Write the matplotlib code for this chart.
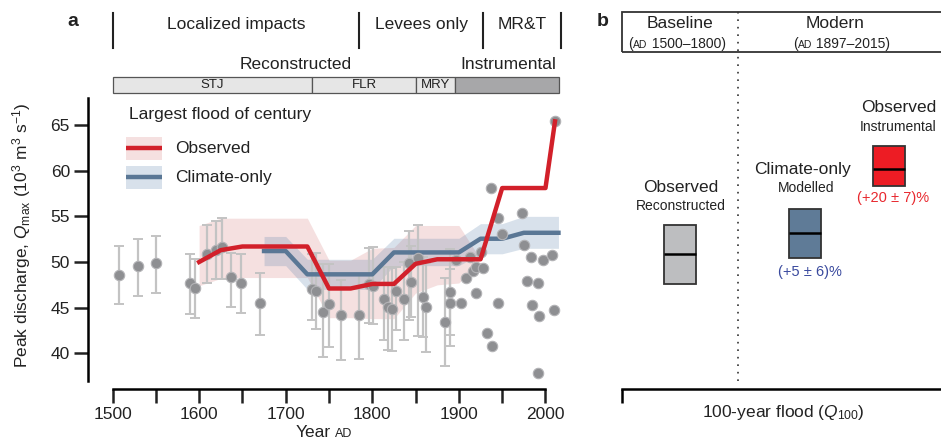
import numpy as np
import matplotlib.pyplot as plt
from matplotlib.patches import Rectangle
import matplotlib.transforms as mtransforms

plt.rcParams['font.family'] = ['Liberation Sans', 'DejaVu Sans']
plt.rcParams['mathtext.fontset'] = 'custom'
plt.rcParams['mathtext.rm'] = 'Liberation Sans'
plt.rcParams['mathtext.it'] = 'Liberation Sans:italic'
plt.rcParams['mathtext.bf'] = 'Liberation Sans:bold'
plt.rcParams['text.color'] = '#222222'

# --- panel a : reconstructed floods (with error bars)
recon_year = [1508, 1529, 1550, 1590, 1595, 1609, 1620, 1626, 1637, 1648, 1670,
              1730, 1735, 1743, 1750, 1764, 1785, 1796, 1801, 1814, 1818, 1823,
              1827, 1837, 1842, 1845, 1853, 1858, 1862, 1884, 1890, 1890]
recon_q = [48.55, 49.55, 49.9, 47.75, 47.2, 50.9, 51.3, 51.6, 48.4, 47.75, 45.5,
           47.0, 46.85, 44.5, 45.35, 44.2, 44.2, 47.6, 47.4, 46.0, 45.1, 44.9,
           46.85, 45.95, 49.85, 47.85, 50.4, 46.2, 45.1, 43.45, 46.75, 45.55]
recon_lo = [45.4, 46.3, 46.6, 44.3, 43.85, 47.7, 48.1, 48.1, 45.1, 44.4, 42.0,
            43.65, 42.7, 39.6, 40.7, 39.3, 39.4, 43.35, 43.2, 41.45, 40.4, 40.3,
            42.55, 41.5, 43.7, 44.0, 41.9, 41.8, 40.2, 38.6, 40.8, 42.0]
recon_hi = [51.75, 52.5, 52.9, 50.85, 50.35, 54.0, 54.5, 54.8, 50.95, 50.9, 48.85,
            50.9, 50.95, 49.75, 49.75, 48.0, 48.6, 51.5, 51.6, 49.5, 49.4, 49.3,
            49.5, 50.0, 53.4, 51.7, 54.05, 50.6, 49.9, 48.3, 51.4, 49.2]

# instrumental floods
inst_year = [1897, 1902, 1908, 1913, 1916, 1920, 1920, 1925, 1928, 1932, 1937,
             1938, 1945, 1945, 1950, 1973, 1975, 1979, 1983, 1985, 1991, 1991,
             1993, 1997, 2008, 2010, 2011]
inst_q = [50.2, 45.5, 48.3, 50.5, 49.0, 49.5, 46.6, 51.1, 49.3, 42.25, 58.1,
          40.8, 54.8, 45.5, 53.05, 55.4, 51.9, 47.9, 50.55, 45.3, 47.7, 37.9,
          44.1, 50.2, 50.8, 44.75, 65.45]

# largest flood of century, observed
obs_year = [1600, 1625, 1650, 1675, 1700, 1725, 1750, 1775, 1800, 1825, 1850,
            1875, 1900, 1925, 1950, 1975, 2000, 2011]
obs_q = [50.0, 51.3, 51.7, 51.7, 51.7, 51.7, 47.1, 47.1, 47.6, 47.6, 49.8,
         50.3, 50.3, 50.3, 58.1, 58.1, 58.1, 65.4]
obs_band_year = obs_year[:14]
obs_lo = [47.4, 48.2, 48.3, 48.3, 48.3, 48.3, 43.9, 43.9, 43.8, 43.8, 46.6,
          47.5, 47.7, 50.3]
obs_hi = [54.0, 54.8, 54.8, 54.8, 54.8, 54.8, 50.2, 50.2, 51.5, 51.6, 54.0,
          54.0, 54.0, 50.3]

# largest flood of century, climate-only
clim_year = [1675, 1700, 1725, 1750, 1775, 1800, 1825, 1850, 1875, 1900, 1925,
             1950, 1975, 2000, 2015]
clim_q = [51.2, 51.2, 48.65, 48.65, 48.65, 48.65, 51.05, 51.05, 51.05, 51.05,
          52.55, 52.55, 53.2, 53.2, 53.2]
clim_lo = [49.6, 49.6, 47.0, 47.0, 47.0, 47.0, 49.6, 49.6, 49.6, 49.6, 50.9,
           50.9, 51.5, 51.5, 51.5]
clim_hi = [52.8, 52.8, 50.3, 50.3, 50.3, 50.3, 52.6, 52.6, 52.6, 52.6, 54.2,
           54.2, 55.0, 55.0, 55.0]

eras = ["Localized impacts", "Levees only", "MR&T"]
era_edges = [1500, 1785, 1928, 2018]
sources = ["STJ", "FLR", "MRY", ""]
source_edges = [1500, 1730, 1851, 1896, 2016]
source_colors = ['#e6e6e6', '#e6e6e6', '#e6e6e6', '#a7a7a9']

# --- panel b : 100-year flood
box_x = [0.182, 0.573, 0.837]
box_lo = [47.6, 50.45, 58.3]
box_med = [50.9, 53.2, 60.2]
box_hi = [54.0, 55.8, 62.7]
box_colors = ['#bdbec0', '#5f7b97', '#ed1c24']
box_title = ["Observed", "Climate-only", "Observed"]
box_sub = ["Reconstructed", "Modelled", "Instrumental"]

red = '#d2202a'
blue = '#5a7795'
W, H = 941, 445


def pix(x0, y0, x1, y1):
    # pixel box -> figure fraction
    return [x0 / W, 1 - y1 / H, (x1 - x0) / W, (y1 - y0) / H]


fig = plt.figure(figsize=(W / 100, H / 100), dpi=100)
ax = fig.add_axes(pix(88, 98, 566, 381))
axb = fig.add_axes(pix(622, 98, 941, 381))
ylim = (36.97, 67.96)

# ---------------- panel a
ax.set_xlim(1471.7, 2023.7)
ax.set_ylim(*ylim)
for s in ['top', 'right']:
    ax.spines[s].set_visible(False)
ax.spines['left'].set_linewidth(1.8)
ax.spines['bottom'].set_linewidth(1.8)
ax.spines['bottom'].set_position(('outward', 6))
ax.spines['bottom'].set_bounds(1500, 2000)
xt = np.arange(1500, 2001, 50)
ax.set_xticks(xt)
ax.set_xticklabels([str(v) if v % 100 == 0 else '' for v in xt])
ax.set_yticks([40, 45, 50, 55, 60, 65])
ax.tick_params(length=10, width=1.8, labelsize=12.5, pad=3, colors='#222222')

ax.fill_between(obs_band_year, obs_lo, obs_hi, color='#c94a4a', alpha=0.17, lw=0, zorder=1)
ax.fill_between(clim_year, clim_lo, clim_hi, color='#4f7aa6', alpha=0.22, lw=0, zorder=1)
q = np.array(recon_q)
ax.errorbar(recon_year, recon_q, yerr=[q - np.array(recon_lo), np.array(recon_hi) - q],
            fmt='none', ecolor='#c3c3c3', elinewidth=1.6, capsize=3.8, capthick=1.4, zorder=2)
ax.plot(clim_year, clim_q, color=blue, lw=3.2, zorder=3)
ax.plot(recon_year + inst_year, recon_q + inst_q, 'o', ms=7.5, mfc='#8e8f92',
        mec='#b3b3b6', mew=0.8, zorder=4)
ax.plot(obs_year, obs_q, color=red, lw=3.2, zorder=5)

# era / record annotations above
tr = mtransforms.blended_transform_factory(ax.transData, ax.transAxes)
for e in era_edges:
    ax.plot([e, e], [1.177, 1.30], transform=tr, color='#222222', lw=1.5, clip_on=False)
for i, name in enumerate(eras):
    ax.text((era_edges[i] + era_edges[i + 1]) / 2, 1.261, name, transform=tr,
            ha='center', va='center', fontsize=12.5)
for i, name in enumerate(sources):
    x0, x1 = source_edges[i], source_edges[i + 1]
    ax.add_patch(Rectangle((x0, 1.018), x1 - x0, 0.056, transform=tr, facecolor=source_colors[i],
                           edgecolor='#555555', lw=0.9, clip_on=False))
    ax.text((x0 + x1) / 2, 1.046, name, transform=tr, ha='center', va='center', fontsize=9.5)
ax.text(1712, 1.117, "Reconstructed", transform=tr, ha='center', va='center', fontsize=12.5)
ax.text(1957, 1.117, "Instrumental", transform=tr, ha='center', va='center', fontsize=12.5)

# legend
ax.text(0.0858, 0.940, "Largest flood of century", transform=ax.transAxes,
        ha='left', va='center', fontsize=12.5)
for (y0, y1, yl), col, fc, al, lab in [((0.781, 0.862, 0.823), red, '#c94a4a', 0.17, "Observed"),
                                       ((0.678, 0.760, 0.7198), blue, '#4f7aa6', 0.22, "Climate-only")]:
    ax.add_patch(Rectangle((0.0795, y0), 0.0753, y1 - y0, transform=ax.transAxes,
                           facecolor=fc, alpha=al, lw=0))
    ax.plot([0.0795, 0.1548], [yl, yl], transform=ax.transAxes, color=col, lw=3.2,
            solid_capstyle='butt')
    ax.text(0.182, yl, lab, transform=ax.transAxes, ha='left', va='center', fontsize=12.5)

fig.text(22 / W, 1 - 235 / H, r'Peak discharge, $Q_{\mathrm{max}}$ ($10^3$ m$^3$ s$^{-1}$)',
         rotation=90, ha='center', va='center', fontsize=12.5)
ty = fig.text(296 / W, 0.018, "Year", ha='left', va='baseline', fontsize=12.5)
ax.annotate("AD", xy=(1, 0.018), xycoords=(ty, 'figure fraction'), xytext=(3, 0),
            textcoords='offset points', ha='left', va='baseline', fontsize=9)
fig.text(73 / W, 1 - 22 / H, "a", fontsize=14, fontweight='bold', ha='center', va='center')
fig.text(603 / W, 1 - 22 / H, "b", fontsize=14, fontweight='bold', ha='center', va='center')

# ---------------- panel b
axb.set_xlim(0, 1)
axb.set_ylim(*ylim)
for s in ['top', 'right', 'left']:
    axb.spines[s].set_visible(False)
axb.spines['bottom'].set_linewidth(1.8)
axb.spines['bottom'].set_position(('outward', 6))
axb.set_xticks([0])
axb.set_xticklabels([''])
axb.set_yticks([])
axb.tick_params(length=10, width=1.8)

axb.bar(box_x, np.array(box_hi) - np.array(box_lo), bottom=box_lo, width=0.1,
        color=box_colors, edgecolor='#333333', lw=1.3, zorder=3)
axb.hlines(box_med, np.array(box_x) - 0.05, np.array(box_x) + 0.05, colors='black', lw=1.8, zorder=4)
axb.axvline(0.363, 0, 1.304, color='#333333', lw=1.2, ls=(0, (1, 3.5)), clip_on=False)
axb.add_patch(Rectangle((0, 1.163), 1.05, 0.141, transform=axb.transAxes, fill=False,
                        lw=1.3, edgecolor='#333333', clip_on=False))

axb.text(0.182, 1.265, "Baseline", transform=axb.transAxes, ha='center', va='center', fontsize=12.5)
axb.text(0.668, 1.265, "Modern", transform=axb.transAxes, ha='center', va='center', fontsize=12.5)
for x0, rng in [(0.02, " 1500–1800)"), (0.537, " 1897–2015)")]:
    t1 = axb.text(x0, 1.178, "(", transform=axb.transAxes, ha='left', va='baseline', fontsize=10)
    t2 = axb.annotate("AD", xy=(1, 1.178), xycoords=(t1, 'axes fraction'), ha='left',
                      va='baseline', fontsize=7.5)
    axb.annotate(rng, xy=(1, 1.178), xycoords=(t2, 'axes fraction'), ha='left',
                 va='baseline', fontsize=10)

title_y = [58.14, 60.08, 66.9]
sub_y = [56.13, 58.07, 64.82]
title_x = [0.184, 0.566, 0.866]
sub_x = [0.184, 0.577, 0.866]
for i in range(3):
    axb.text(title_x[i], title_y[i], box_title[i], ha='center', va='center', fontsize=12.5)
    axb.text(sub_x[i], sub_y[i], box_sub[i], ha='center', va='center', fontsize=10)
axb.text(0.588, 48.94, "(+5 ± 6)%", ha='center', va='center', fontsize=10.5, color='#3a4a9e')
axb.text(0.850, 56.98, "(+20 ± 7)%", ha='center', va='center', fontsize=10.5, color='#e8282e')
fig.text(783 / W, 1 - 413 / H, r'100-year flood ($Q_{100}$)', ha='center', va='center', fontsize=12.5)

fig.savefig('out.png', dpi=100)
